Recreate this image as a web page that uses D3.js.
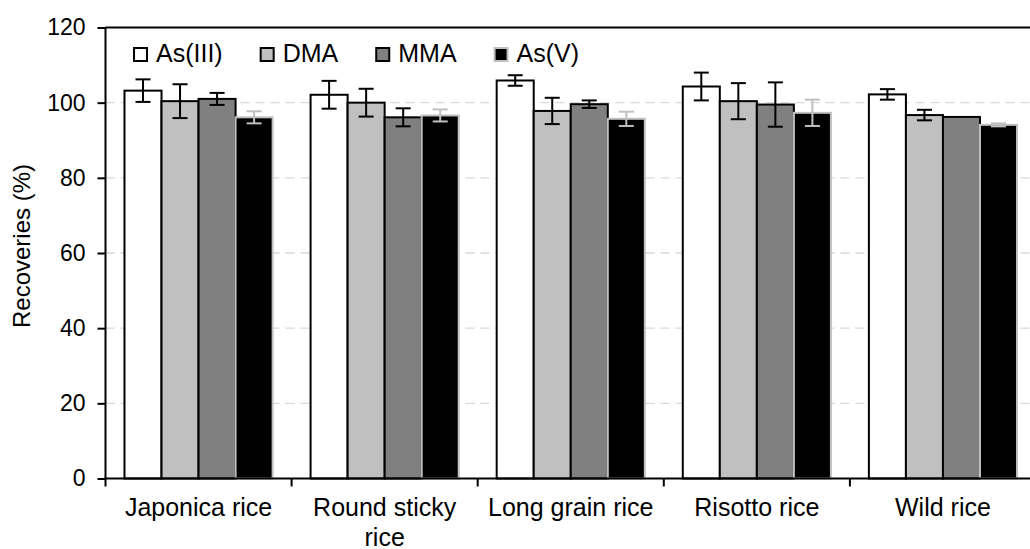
<!DOCTYPE html>
<html>
<head>
<meta charset="utf-8">
<script src="https://cdn.jsdelivr.net/npm/d3@7"></script>
<style>
  html, body { margin: 0; padding: 0; background: #fff; }
  svg { display: block; font-family: "Liberation Sans", Arial, sans-serif; }
</style>
</head>
<body>
<svg id="chart" width="1030" height="549"></svg>
<script>
// Rice types on the x axis
const categories = ["Japonica rice", "Round sticky rice", "Long grain rice", "Risotto rice", "Wild rice"];
// Arsenic species (legend order)
const species = ["As(III)", "DMA", "MMA", "As(V)"];
// Mean recoveries (%) per species, one value per rice type
const asIII = [103.2, 102.1, 105.9, 104.3, 102.2];
const dma   = [100.4, 100.0,  97.8, 100.4,  96.7];
const mma   = [101.0,  96.1,  99.6,  99.5,  96.2];
const asV   = [ 96.1,  96.6,  95.7,  97.3,  94.1];
// Standard deviations (%)
const asIIIErr = [3.0, 3.7, 1.4, 3.7, 1.4];
const dmaErr   = [4.5, 3.7, 3.5, 4.8, 1.4];
const mmaErr   = [1.6, 2.4, 1.0, 5.9, 0.0];
const asVErr   = [1.6, 1.6, 1.9, 3.5, 0.4];
// Y axis ticks
const yTicks = [0, 20, 40, 60, 80, 100, 120];

const seriesValues = [asIII, dma, mma, asV];
const seriesErrors = [asIIIErr, dmaErr, mmaErr, asVErr];
const fills   = ["#ffffff", "#c0c0c0", "#808080", "#000000"];
const strokes = ["#000000", "#000000", "#000000", "#c0c0c0"];

const rows = [];
categories.forEach((c, i) => {
  species.forEach((s, j) => {
    rows.push({ cat: c, sp: s, si: j, value: seriesValues[j][i], err: seriesErrors[j][i] });
  });
});

const svg = d3.select("#chart");
const plotLeft = 105.5, plotTop = 27.5, plotBottom = 478.5, plotRight = 1036;

const x0 = d3.scaleBand().domain(categories).range([plotLeft, plotRight]).padding(0);
const x1 = d3.scaleBand().domain(species)
  .range([x0.bandwidth() * 0.102, x0.bandwidth() * 0.898]).padding(0);
const y = d3.scaleLinear().domain([0, 120]).range([plotBottom, plotTop]);

// dashed gridlines
svg.append("g")
  .selectAll("line")
  .data(yTicks.filter(t => t > 0 && t < 120))
  .join("line")
  .attr("x1", plotLeft).attr("x2", 1030)
  .attr("y1", d => y(d)).attr("y2", d => y(d))
  .attr("stroke", "#d9d9d9").attr("stroke-width", 1.3)
  .attr("stroke-dasharray", "9,6");

// bars
const groups = svg.append("g").selectAll("g")
  .data(categories).join("g")
  .attr("transform", d => `translate(${x0(d)},0)`);

groups.selectAll("rect")
  .data(c => rows.filter(r => r.cat === c))
  .join("rect")
  .attr("x", d => x1(d.sp))
  .attr("width", x1.bandwidth())
  .attr("y", d => y(d.value))
  .attr("height", d => y(0) - y(d.value))
  .attr("fill", d => fills[d.si])
  .attr("stroke", d => strokes[d.si])
  .attr("stroke-width", 2);

// error bars
const capW = 15;
const eb = groups.selectAll("g.err")
  .data(c => rows.filter(r => r.cat === c && r.err > 0))
  .join("g").attr("class", "err")
  .attr("stroke", d => d.si === 3 ? "#c0c0c0" : "#000000")
  .attr("stroke-width", 2);
eb.append("line")
  .attr("x1", d => x1(d.sp) + x1.bandwidth() / 2)
  .attr("x2", d => x1(d.sp) + x1.bandwidth() / 2)
  .attr("y1", d => y(d.value + d.err)).attr("y2", d => y(d.value - d.err));
eb.append("line")
  .attr("x1", d => x1(d.sp) + x1.bandwidth() / 2 - capW / 2)
  .attr("x2", d => x1(d.sp) + x1.bandwidth() / 2 + capW / 2)
  .attr("y1", d => y(d.value + d.err)).attr("y2", d => y(d.value + d.err));
eb.append("line")
  .attr("x1", d => x1(d.sp) + x1.bandwidth() / 2 - capW / 2)
  .attr("x2", d => x1(d.sp) + x1.bandwidth() / 2 + capW / 2)
  .attr("y1", d => y(d.value - d.err)).attr("y2", d => y(d.value - d.err));

// top frame line
svg.append("line")
  .attr("x1", plotLeft).attr("x2", 1030)
  .attr("y1", plotTop).attr("y2", plotTop)
  .attr("stroke", "#000").attr("stroke-width", 2);

// y axis
const yAxis = svg.append("g")
  .attr("transform", `translate(${plotLeft},0)`)
  .call(d3.axisLeft(y).tickValues(yTicks).tickSize(8).tickPadding(12));
yAxis.select(".domain").attr("stroke-width", 2).attr("d", `M0,${plotTop}V${plotBottom}`);
yAxis.selectAll(".tick line").attr("stroke-width", 2);
yAxis.selectAll(".tick text").attr("font-size", 23).attr("fill", "#000")
  .attr("font-family", "Liberation Sans, Arial, sans-serif");

// x axis: ticks at category boundaries
const bounds = categories.map(c => x0(c));
const xAxisG = svg.append("g");
xAxisG.append("line")
  .attr("x1", plotLeft - 1).attr("x2", 1030)
  .attr("y1", plotBottom).attr("y2", plotBottom)
  .attr("stroke", "#000").attr("stroke-width", 2);
xAxisG.selectAll("line.tk").data(bounds).join("line").attr("class", "tk")
  .attr("x1", d => d).attr("x2", d => d)
  .attr("y1", plotBottom).attr("y2", plotBottom + 8)
  .attr("stroke", "#000").attr("stroke-width", 2);

// category labels, wrapped to the band width
const labels = xAxisG.selectAll("text.cat").data(categories).join("text")
  .attr("class", "cat")
  .attr("x", d => x0(d) + x0.bandwidth() / 2)
  .attr("y", 516)
  .attr("text-anchor", "middle")
  .attr("font-size", 25)
  .attr("fill", "#000");
labels.each(function (d) {
  const t = d3.select(this);
  const words = d.split(" ");
  const maxW = 180;
  let line = [];
  let tspan = t.append("tspan").attr("x", t.attr("x")).attr("dy", 0);
  words.forEach(w => {
    line.push(w);
    tspan.text(line.join(" "));
    if (tspan.node().getComputedTextLength() > maxW && line.length > 1) {
      line.pop();
      tspan.text(line.join(" "));
      line = [w];
      tspan = t.append("tspan").attr("x", t.attr("x")).attr("dy", 29.5).text(w);
    }
  });
});

// y axis title
svg.append("text")
  .attr("transform", "translate(30,246) rotate(-90)")
  .attr("text-anchor", "middle")
  .attr("font-size", 24)
  .attr("fill", "#000")
  .text("Recoveries (%)");

// legend
const legend = svg.append("g").attr("transform", "translate(133,0)");
let lx = 0;
species.forEach((s, j) => {
  const item = legend.append("g").attr("transform", `translate(${lx},0)`);
  item.append("rect")
    .attr("x", 1).attr("y", 48).attr("width", 13).attr("height", 13)
    .attr("fill", fills[j]).attr("stroke", strokes[j]).attr("stroke-width", 2);
  const txt = item.append("text")
    .attr("x", 23).attr("y", 62)
    .attr("font-size", 25).attr("fill", "#000")
    .text(s);
  lx += 23 + txt.node().getComputedTextLength() + 37;
});
</script>
</body>
</html>
